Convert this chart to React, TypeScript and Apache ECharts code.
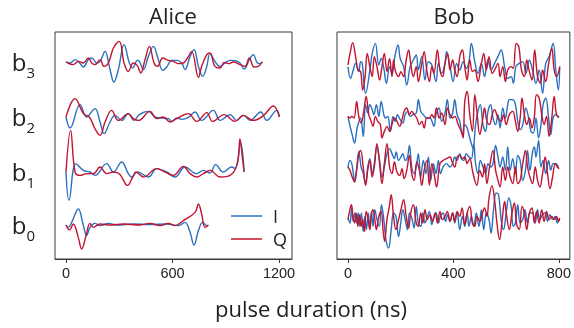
import { useEffect, useRef } from "react";
import * as echarts from "echarts";

// ---------- data (time in ns, amplitude in arbitrary units) ----------
const aliceTicks = [0, 600, 1200];
const bobTicks = [0, 400, 800];
const qubitNames = ["0", "1", "2", "3"];
const seriesNames = ["I", "Q"];

const aliceB3I = [[0,0],[23,-0.05],[51,0.12],[79,-0.08],[98,-0.25],[126,0.12],[145,0.2],[173,-0.05],[192,0.03],[220,0.53],[244,-0.22],[270,-1.0],[295,-0.38],[327,0.87],[357,-0.05],[376,-0.3],[402,0.08],[413,0.03],[436,-0.38],[464,0.28],[492,0.78],[520,0.12],[545,-0.42],[567,-0.25],[595,0.08],[624,0.08],[652,-0.05],[670,-0.38],[699,0.28],[721,0.62],[746,-0.22],[770,-0.72],[793,-0.22],[811,0.42],[839,0.03],[868,-0.22],[896,-0.05],[924,0.08],[952,0.07],[980,-0.05],[1003,-0.35],[1033,0.12],[1055,0.37],[1078,-0.05],[1093,-0.08],[1108,0]];
const aliceB3Q = [[0,0],[23,-0.1],[41,-0.13],[69,0.03],[98,-0.05],[126,0.2],[145,-0.05],[163,-0.13],[192,0.12],[214,-0.22],[239,-0.05],[267,0.7],[300,1.03],[327,-0.05],[351,-0.47],[379,-0.05],[402,-0.18],[421,-0.55],[445,0.12],[470,0.78],[496,-0.05],[515,-0.22],[545,0.2],[577,0.08],[605,0.03],[633,-0.08],[661,-0.05],[684,0.2],[708,0.53],[746,-0.77],[764,-0.22],[793,0.37],[811,0.45],[839,-0.22],[868,-0.3],[890,-0.02],[915,-0.08],[943,0],[980,-0.13],[1008,-0.22],[1033,0.2],[1059,-0.25],[1084,-0.22],[1104,0]];

const aliceB2I = [[0,0],[23,-0.55],[79,0.62],[116,0],[163,0.42],[192,-0.25],[214,-0.83],[248,-0.25],[276,0.08],[314,-0.17],[351,0.17],[383,-0.17],[413,0.12],[464,0.28],[501,0],[539,-0.05],[577,-0.08],[595,-0.22],[624,-0.05],[652,-0.12],[689,-0.02],[727,0.25],[764,-0.17],[830,0.33],[868,-0.17],[924,0.12],[962,-0.17],[999,0.08],[1037,-0.17],[1097,0.25],[1131,-0.17],[1187,0.33],[1202,0]];
const aliceB2Q = [[0,0],[51,0.92],[98,0.17],[131,0],[163,-0.58],[192,-0.92],[220,-0.25],[257,0.33],[295,-0.17],[351,0.17],[379,-0.08],[408,-0.17],[473,0.28],[511,-0.08],[548,0],[586,-0.25],[624,-0.08],[689,0.17],[736,-0.22],[793,0.22],[826,-0.22],[890,0.12],[952,-0.22],[999,0.08],[1055,-0.17],[1110,0.05],[1168,0.55],[1202,0]];

const aliceB1I = [[0,0],[17,-1.42],[56,0.42],[98,0.08],[135,0],[163,-0.17],[229,0.42],[267,0],[314,0.5],[351,-0.08],[370,-0.25],[402,0],[464,-0.25],[511,0.17],[567,0],[614,-0.25],[670,0.25],[736,-0.08],[774,0.08],[811,-0.05],[843,0.37],[886,0],[933,0.25],[952,0.17],[984,1.42],[1003,0]];
const aliceB1Q = [[0,0],[26,2.08],[51,0],[79,-0.17],[116,-0.08],[154,-0.08],[192,0.25],[229,-0.08],[267,0],[304,-0.12],[346,-0.67],[376,-0.25],[394,0],[436,-0.25],[511,0.17],[558,0],[605,-0.17],[661,0.28],[699,-0.08],[736,-0.25],[774,-0.08],[811,0.08],[868,-0.25],[924,-0.17],[965,0.42],[980,1.65],[993,0.75],[1003,0]];

const aliceB0I = [[0,0],[13,-0.12],[32,0.13],[69,0.8],[98,-0.03],[116,-0.53],[135,-0.12],[163,0.08],[192,-0.03],[239,0.08],[285,0],[379,0.05],[473,0.02],[567,0.05],[633,-0.03],[670,0.13],[699,-0.37],[721,-1.0],[746,-0.28],[770,0.13],[793,-0.03],[802,0]];
const aliceB0Q = [[0,0],[19,-0.25],[41,0.05],[69,-0.62],[88,-1.2],[113,-0.53],[135,0.08],[154,-0.12],[192,0.05],[248,0],[323,0.05],[417,0],[473,0.08],[530,-0.03],[577,0.08],[614,-0.03],[661,0.22],[727,0.63],[746,1.05],[764,0.55],[783,-0.12],[802,0]];

const bobB3I = [[0,-0.08],[10,-0.67],[20,-0.25],[29,0.08],[41,-0.33],[48,0.17],[54,0.08],[67,-1.42],[85,-0.08],[92,0.58],[104,1.08],[117,0],[126,0.33],[136,-0.17],[146,-0.92],[158,-0.08],[167,-0.42],[179,0.5],[190,1.0],[198,0.33],[211,-0.08],[223,-1.0],[236,-0.08],[248,0.25],[259,0.5],[267,-0.25],[280,0.42],[292,-0.75],[305,0.17],[318,0],[334,-0.83],[343,0.08],[355,-0.42],[368,0.08],[374,0.67],[387,-0.08],[399,-0.83],[412,0.08],[424,-0.25],[437,0.17],[449,-0.17],[459,0.17],[468,1.08],[481,0.17],[493,-0.42],[506,0.08],[518,-0.58],[531,0.25],[543,-0.25],[556,0.08],[569,0.42],[581,0.75],[594,-0.08],[606,-0.67],[619,-0.58],[627,-0.92],[637,-0.08],[650,0.08],[663,0.17],[675,-0.42],[688,0.25],[700,-0.25],[713,-0.92],[725,-0.25],[738,-1.42],[750,0.08],[763,0.42],[778,1.08],[788,-0.25],[798,-1.25],[803,-0.08]];
const bobB3Q = [[0,0],[8,0.58],[18,1.12],[29,0.42],[38,-0.25],[48,-0.33],[56,-1.25],[65,-0.58],[73,0.58],[83,-0.08],[92,-0.58],[100,0.42],[110,-0.08],[120,-0.75],[129,-0.08],[138,0.58],[148,-0.33],[158,0.33],[167,-0.58],[173,0.25],[179,-0.25],[192,-0.58],[201,-0.33],[211,-0.58],[221,0.25],[230,0.75],[238,0.08],[248,-0.58],[259,-0.08],[267,-0.83],[280,0.08],[289,0.67],[299,-0.25],[309,-0.83],[318,-0.08],[326,-0.42],[339,0.75],[349,-0.25],[359,-0.58],[368,0.08],[378,0.58],[387,-0.25],[397,0.25],[405,-0.25],[414,-0.58],[424,0.42],[434,0.75],[443,-0.08],[452,-0.75],[462,0.25],[472,-0.33],[481,-0.25],[493,-0.83],[506,0.08],[515,0.58],[525,-0.25],[535,0.42],[547,-0.42],[556,-0.25],[569,0.08],[577,-0.58],[587,-0.08],[597,-0.83],[606,-0.25],[619,-0.08],[627,-0.17],[638,1.08],[648,0.92],[658,-0.25],[669,-0.58],[678,0.25],[688,-0.33],[698,-0.75],[708,0.75],[719,-0.58],[730,-0.92],[738,-0.25],[750,-0.83],[761,0.08],[773,0.83],[782,-0.25],[791,-0.58],[803,-0.08]];

const bobB2I = [[0,0.03],[8,-0.47],[16,-0.88],[25,-1.3],[35,-0.55],[48,-0.05],[58,-0.97],[67,0.62],[75,0.2],[83,0.62],[92,0.37],[98,0.12],[108,0.62],[117,0.03],[126,0.78],[136,0.12],[142,-0.05],[151,0.03],[161,-0.72],[171,0.03],[179,-0.22],[188,0.12],[198,-0.13],[208,-0.3],[217,0.12],[226,0.28],[236,0.03],[246,0.12],[259,0.2],[267,0.87],[276,0.28],[286,0.12],[299,-0.05],[311,-0.05],[326,-0.47],[334,0.12],[346,0.45],[355,-0.22],[368,0.2],[377,0.87],[387,-0.05],[397,0.2],[405,0.87],[414,0.12],[424,-0.22],[434,-0.88],[443,-0.38],[452,-0.55],[462,-1.05],[474,-1.55],[484,-0.38],[493,0.28],[502,0.62],[512,-0.38],[522,-0.72],[531,0.28],[541,0.62],[550,-0.05],[560,-0.38],[569,0.12],[577,-0.55],[587,0.45],[597,-0.05],[606,0.62],[612,0.87],[625,0.87],[635,0.62],[644,-0.22],[653,-0.63],[663,-0.38],[675,0.45],[685,-0.05],[694,-0.72],[703,-0.8],[713,-0.05],[723,-1.05],[732,-0.38],[740,0.62],[750,0.95],[761,-0.05],[769,-0.88],[778,-0.05],[788,0.12],[798,-0.05]];
const bobB2Q = [[0,0.03],[8,-0.05],[14,0.03],[23,-0.05],[33,0.78],[41,0.03],[50,-0.3],[60,0.28],[69,1.03],[79,0.12],[88,-0.22],[95,-0.47],[104,0.03],[113,-0.22],[123,-0.38],[129,-1.05],[138,-0.72],[148,-0.47],[158,-0.72],[167,-0.38],[176,-0.05],[186,-0.22],[196,-0.47],[205,-0.13],[213,0.28],[223,0.45],[233,0.12],[242,0.28],[251,0.12],[261,-0.05],[271,-0.38],[280,-0.22],[289,-0.55],[299,-0.05],[309,-0.05],[318,0.12],[326,-0.05],[336,0.45],[346,-0.05],[355,0.2],[368,-0.38],[377,0.45],[387,0.12],[397,-0.05],[405,0.03],[418,-0.38],[430,-0.72],[437,-1.05],[443,0.78],[452,1.28],[462,0.12],[472,-0.72],[481,1.12],[489,0.28],[500,-0.88],[510,-0.22],[518,0.45],[527,-0.22],[537,-0.38],[547,0.12],[556,0.37],[569,-0.05],[581,-0.22],[590,0.12],[600,-0.38],[612,0.12],[625,0.28],[635,-0.22],[644,-0.72],[653,-0.05],[660,0.95],[669,0.12],[678,-0.38],[688,-0.05],[698,-0.55],[707,0.03],[715,1.12],[725,0.95],[735,0.12],[744,-0.38],[753,0.03],[763,-0.97],[773,-0.05],[782,1.03],[791,0.12],[801,0]];

const bobB1I = [[0,-0.03],[8,0.33],[16,0.08],[25,-0.67],[33,-0.08],[41,0.75],[50,0],[58,-0.33],[67,-0.83],[75,0],[83,0.42],[92,-0.33],[100,0.17],[110,1.0],[120,0.33],[129,-0.5],[138,0],[148,0.67],[158,0.92],[167,0.67],[176,0.42],[183,0.75],[192,0.33],[201,0.5],[208,0.67],[217,0.33],[226,0.5],[233,1.08],[242,0],[251,-0.33],[259,0],[267,0.67],[276,-0.5],[286,0.33],[296,-0.33],[305,0.5],[314,-0.67],[324,0.17],[334,-0.33],[343,0.33],[351,-0.33],[361,0],[374,0.17],[387,0],[397,0.17],[405,0.5],[414,0.33],[424,0.67],[430,0.42],[439,0.33],[449,0.67],[459,0.5],[468,0.42],[477,1.17],[484,0.17],[493,-0.33],[502,0.33],[512,0],[522,-0.33],[531,0.17],[540,0],[550,0.17],[560,1.08],[569,0.5],[577,0],[587,0.5],[597,-0.17],[606,1.0],[615,-0.17],[625,0.42],[635,-0.33],[644,0.58],[653,0.33],[663,-0.67],[673,-0.17],[681,0.83],[690,-0.17],[700,0.75],[707,1.0],[713,0.5],[723,1.33],[732,0],[740,0.33],[750,-0.33],[761,0.33],[769,-0.17],[778,0.17],[788,0.17],[798,0]];
const bobB1Q = [[0,0],[8,-0.17],[16,-0.5],[25,-0.75],[33,-0.17],[41,0.67],[48,0.83],[58,0],[67,-0.92],[75,-0.17],[83,0.33],[92,-0.5],[100,0],[110,1.17],[120,0.17],[129,-0.83],[138,0.17],[148,1.17],[158,0],[167,-0.33],[176,0.25],[186,-0.25],[196,-0.42],[205,-0.08],[213,-0.58],[223,-0.17],[233,0.58],[242,-0.33],[251,-0.67],[261,0.25],[271,-0.17],[280,-0.92],[289,-0.17],[299,0.33],[309,-0.92],[318,0.17],[326,-0.25],[336,-1.0],[349,0.17],[361,0.33],[374,0.42],[387,0.5],[397,0.17],[405,0],[414,0.5],[424,0.58],[434,0.42],[443,0.5],[452,0.17],[462,0.42],[472,-0.17],[481,-0.67],[489,-0.92],[500,-0.17],[510,-0.5],[518,0.17],[527,-0.83],[537,0],[550,0.83],[560,-0.17],[569,-0.67],[577,-1.0],[587,0],[597,-0.67],[606,0],[615,-0.5],[625,-0.83],[635,0],[644,-0.83],[653,-0.67],[663,0.17],[673,0.83],[681,0],[690,-0.5],[700,-0.83],[710,0],[719,-0.67],[728,-1.0],[738,-0.33],[748,0.5],[757,-0.33],[766,-1.08],[776,-0.5],[786,0.17],[794,0],[801,-0.08]];

const bobB0I = [[0,0.05],[8,-0.2],[14,0.55],[20,-0.12],[26,0.3],[33,-0.2],[39,0.3],[45,-0.37],[51,0.3],[58,-0.62],[64,0.13],[70,-0.53],[77,0.3],[83,-0.45],[89,0.38],[95,-0.37],[102,0.47],[110,-0.03],[119,-0.37],[127,0.72],[136,-0.03],[144,-1.03],[154,-1.45],[164,-0.53],[173,0.3],[182,0.13],[192,-0.87],[201,-0.12],[208,0.47],[217,-0.03],[226,-0.53],[233,0.3],[242,0.05],[251,-0.45],[259,0.63],[267,-0.2],[276,-0.37],[284,0.3],[292,-0.2],[301,0.13],[309,0.38],[318,-0.28],[326,0.13],[334,0.3],[343,-0.2],[351,0.13],[361,0.3],[370,-0.12],[378,0.22],[387,-0.12],[397,0.3],[405,-0.2],[414,0.3],[424,-0.53],[434,0.13],[443,-0.37],[452,0.3],[459,-0.37],[468,0.13],[477,-0.37],[487,0.3],[497,-0.37],[506,0.47],[515,-0.53],[525,0.3],[535,-0.03],[543,-0.7],[552,0.47],[562,1.3],[571,1.22],[581,-0.03],[590,-0.53],[600,0.3],[610,1.05],[619,0.63],[627,-0.37],[635,-0.2],[644,0.72],[653,-0.2],[663,-0.03],[671,0.47],[681,-0.2],[690,0.3],[700,0.3],[710,-0.2],[719,0.47],[728,-0.03],[738,0.22],[748,0.3],[757,-0.12],[766,0.22],[776,-0.03],[786,0.13],[794,-0.2],[801,-0.03]];
const bobB0Q = [[0,-0.03],[6,0.38],[13,0.72],[19,0.13],[25,-0.2],[31,0.3],[38,-0.37],[44,0.22],[50,-0.37],[56,-0.03],[63,-0.62],[69,0.38],[75,0.13],[83,-0.53],[89,0.22],[95,0.47],[102,-0.03],[108,-0.53],[117,0.13],[126,0.38],[133,-0.53],[139,-1.12],[148,-0.03],[157,0.63],[164,1.22],[173,0.13],[182,-0.53],[192,-0.03],[201,0.47],[211,0.97],[221,0.13],[230,-0.45],[238,0.3],[248,0.72],[259,-0.2],[267,-0.37],[276,0.3],[284,-0.2],[292,0.47],[301,-0.03],[311,0.22],[321,-0.12],[331,0.3],[339,-0.2],[349,0.38],[358,-0.03],[368,0.13],[377,0.38],[387,-0.12],[397,0.3],[405,-0.12],[414,0.38],[424,0.13],[433,0.55],[443,-0.28],[452,0.3],[462,0.63],[472,-0.2],[481,-0.37],[489,0.13],[500,-0.12],[510,0.3],[518,0.55],[527,0.13],[535,1.05],[546,1.67],[556,0.97],[565,-0.2],[575,-1.03],[585,-0.03],[594,0.88],[602,0.13],[612,-0.53],[622,0.3],[631,0.8],[640,-0.28],[650,-0.53],[660,0.63],[669,0.3],[678,-0.53],[688,0.3],[698,0.55],[707,-0.2],[715,0.38],[725,-0.2],[735,0.47],[744,-0.12],[753,0.38],[763,-0.03],[773,0.13],[782,-0.03],[791,0.13],[798,-0.12],[803,0.05]];

const aliceTraces = [[aliceB0I, aliceB0Q], [aliceB1I, aliceB1Q], [aliceB2I, aliceB2Q], [aliceB3I, aliceB3Q]];
const bobTraces = [[bobB0I, bobB0Q], [bobB1I, bobB1Q], [bobB2I, bobB2Q], [bobB3I, bobB3Q]];

// ---------- layout / style ----------
const aliceOffsets = [1.7, 4.35, 7.1, 9.85];
const bobOffsets = [2.0, 4.6, 7.1, 9.7];
const Y_MAX = 11.35;
const COLORS = ["#2a70be", "#c1142f"];
const FONT = "'Open Sans', 'Noto Sans', sans-serif";
const TICK_FONT = "'Liberation Sans', Arial, sans-serif";
const FRAME = "#3a3a3a";

function buildSeries(traces: number[][][][], offsets: number[], gridIndex: number) {
  const out: any[] = [];
  traces.forEach((pair, qi) => {
    pair.forEach((trace, ci) => {
      out.push({
        type: "line",
        name: seriesNames[ci],
        xAxisIndex: gridIndex,
        yAxisIndex: gridIndex,
        data: trace.map(([t, v]) => [t, v + offsets[qi]]),
        showSymbol: false,
        smooth: 0.4,
        lineStyle: { color: COLORS[ci], width: 1.4 },
        itemStyle: { color: COLORS[ci] },
        z: 2 + ci,
      });
    });
  });
  return out;
}

export default function App() {
  const ref = useRef<HTMLDivElement>(null);
  useEffect(() => {
    if (!ref.current) return;
    const chart = echarts.init(ref.current, null, { renderer: "svg" });
    const xAxisCommon = {
      type: "value",
      splitLine: { show: false },
      axisLine: { show: true, lineStyle: { color: FRAME, width: 1 } },
      axisTick: { show: true, length: 4, lineStyle: { color: FRAME } },
      axisLabel: { color: "#222", fontSize: 14.5, fontFamily: TICK_FONT, margin: 6, formatter: (v: number) => String(v) },
    };
    chart.setOption({
      animation: false,
      grid: [
        { left: 55, top: 32, width: 237, height: 227, show: true, borderColor: FRAME, borderWidth: 1, backgroundColor: "transparent" },
        { left: 337, top: 32, width: 234, height: 227, show: true, borderColor: FRAME, borderWidth: 1, backgroundColor: "transparent" },
      ],
      xAxis: [
        {
          ...xAxisCommon, gridIndex: 0, min: -62, max: 1273,
          axisTick: { ...xAxisCommon.axisTick, customValues: aliceTicks },
          axisLabel: { ...xAxisCommon.axisLabel, customValues: aliceTicks },
        },
        {
          ...xAxisCommon, gridIndex: 1, min: -41.5, max: 841.5,
          axisTick: { ...xAxisCommon.axisTick, customValues: bobTicks },
          axisLabel: { ...xAxisCommon.axisLabel, customValues: bobTicks },
        },
      ],
      yAxis: [
        {
          type: "value", gridIndex: 0, min: 0, max: Y_MAX,
          splitLine: { show: false }, axisLine: { show: false }, axisTick: { show: false },
          axisLabel: {
            customValues: aliceOffsets,
            margin: 20,
            formatter: (val: number) => {
              const i = aliceOffsets.findIndex((o) => Math.abs(o - val) < 1e-6);
              return `{b|b}{s|${qubitNames[i] ?? ""}}`;
            },
            rich: {
              b: { fontSize: 24, fontFamily: FONT, color: "#222", lineHeight: 26, verticalAlign: "top" },
              s: { fontSize: 15, fontFamily: FONT, color: "#222", lineHeight: 15, padding: [15, 0, 0, 0], verticalAlign: "top" },
            },
          },
        },
        {
          type: "value", gridIndex: 1, min: 0, max: Y_MAX,
          splitLine: { show: false }, axisLine: { show: false }, axisTick: { show: false }, axisLabel: { show: false },
        },
      ],
      legend: {
        orient: "vertical",
        left: 226,
        top: 202,
        icon: "rect",
        itemWidth: 31,
        itemHeight: 1.5,
        itemGap: 5,
        data: seriesNames,
        textStyle: { fontSize: 18, lineHeight: 18, fontFamily: FONT, color: "#222", padding: [0, 0, 0, 6] },
        selectedMode: false,
      },
      graphic: [
        { type: "text", x: 173, y: 15, style: { text: "Alice", fontSize: 22, fontFamily: FONT, fill: "#222", textAlign: "center", textVerticalAlign: "middle" } },
        { type: "text", x: 454, y: 15, style: { text: "Bob", fontSize: 22, fontFamily: FONT, fill: "#222", textAlign: "center", textVerticalAlign: "middle" } },
        { type: "text", x: 311, y: 308, style: { text: "pulse duration (ns)", fontSize: 22, fontFamily: FONT, fill: "#222", textAlign: "center", textVerticalAlign: "middle" } },
      ],
      series: [...buildSeries(aliceTraces, aliceOffsets, 0), ...buildSeries(bobTraces, bobOffsets, 1)],
    });
    return () => chart.dispose();
  }, []);
  return <div ref={ref} style={{ position: "fixed", left: 0, top: 0, width: 574, height: 328 }} />;
}
